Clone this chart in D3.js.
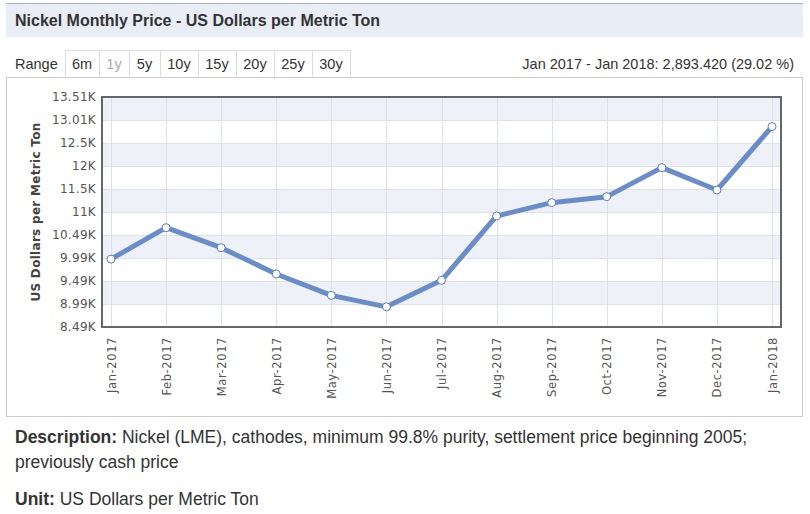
<!DOCTYPE html>
<html>
<head>
<meta charset="utf-8">
<script src="https://cdn.jsdelivr.net/npm/d3@7"></script>
<style>
  html, body { margin: 0; padding: 0; background: #fff; }
  svg { display: block; }
</style>
</head>
<body>
<svg id="chart" width="810" height="514"></svg>
<script>
// ---- data ----
const months = ["Jan-2017","Feb-2017","Mar-2017","Apr-2017","May-2017","Jun-2017",
                "Jul-2017","Aug-2017","Sep-2017","Oct-2017","Nov-2017","Dec-2017","Jan-2018"];
const prices = [9971, 10658, 10221, 9647, 9181, 8930, 9509, 10913, 11204, 11335, 11968, 11480, 12864];
const yTickValues = [8490, 8992, 9494, 9996, 10498, 11000, 11502, 12004, 12506, 13008, 13510];
const yTickLabels = ["8.49K","8.99K","9.49K","9.99K","10.49K","11K","11.5K","12K","12.5K","13.01K","13.51K"];
const rangeButtons = ["6m","1y","5y","10y","15y","20y","25y","30y"];
const titleText = "Nickel Monthly Price - US Dollars per Metric Ton";
const changeText = "Jan 2017 - Jan 2018: 2,893.420 (29.02 %)";
const yAxisTitle = "US Dollars per Metric Ton";

(function () {
const svg = d3.select("#chart");
const sans = "'Liberation Sans', Arial, sans-serif";
const dv = "'DejaVu Sans', Verdana, sans-serif";

// ---- title bar ----
svg.append("rect").attr("x", 6).attr("y", 3).attr("width", 797).attr("height", 34).attr("fill", "#e9edf5");
svg.append("line").attr("x1", 6).attr("x2", 803).attr("y1", 3.5).attr("y2", 3.5).attr("stroke", "#aab3c2").attr("stroke-width", 1);
svg.append("text").attr("x", 15).attr("y", 26).attr("font-family", sans).attr("font-weight", "bold")
  .attr("font-size", 16).attr("fill", "#333").text(titleText);

// ---- range row ----
svg.append("text").attr("x", 15).attr("y", 69).attr("font-family", sans).attr("font-size", 14.5)
  .attr("fill", "#333").text("Range");
const btnEdges = [65, 99, 129, 160, 198, 236, 274, 312, 350];
rangeButtons.forEach((b, i) => {
  const x0 = btnEdges[i], x1 = btnEdges[i + 1];
  svg.append("rect").attr("x", x0 + 0.5).attr("y", 50.5).attr("width", x1 - x0).attr("height", 27)
    .attr("fill", "#fff").attr("stroke", "#ddd");
  svg.append("text").attr("x", (x0 + x1) / 2).attr("y", 69).attr("text-anchor", "middle")
    .attr("font-family", sans).attr("font-size", 14.5).attr("fill", b === "1y" ? "#aaa" : "#333").text(b);
});
svg.append("text").attr("x", 794).attr("y", 69).attr("text-anchor", "end").attr("font-family", sans)
  .attr("font-size", 14.5).attr("fill", "#333").text(changeText);

// ---- chart box ----
svg.append("rect").attr("x", 6.5).attr("y", 77.5).attr("width", 796).attr("height", 339)
  .attr("fill", "#fff").attr("stroke", "#ccc");

// ---- plot ----
const pLeft = 102, pRight = 781, pTop = 97, pBottom = 327;
const x = d3.scalePoint().domain(months).range([pLeft, pRight]).padding(0.163);
const y = d3.scaleLinear().domain([yTickValues[0], yTickValues[yTickValues.length - 1]]).range([pBottom, pTop]);

// alternating bands
for (let i = 0; i < yTickValues.length - 1; i++) {
  const y0 = y(yTickValues[i + 1]), y1 = y(yTickValues[i]);
  const shaded = (yTickValues.length - 2 - i) % 2 === 0;
  svg.append("rect").attr("x", pLeft).attr("y", y0).attr("width", pRight - pLeft).attr("height", y1 - y0)
    .attr("fill", shaded ? "#eff1f8" : "#ffffff");
}
// horizontal grid
svg.append("g").selectAll("line").data(yTickValues).join("line")
  .attr("x1", pLeft).attr("x2", pRight)
  .attr("y1", d => Math.round(y(d)) + 0.5).attr("y2", d => Math.round(y(d)) + 0.5)
  .attr("stroke", "#dde1ea");
// vertical grid
svg.append("g").selectAll("line").data(months).join("line")
  .attr("y1", pTop).attr("y2", pBottom)
  .attr("x1", d => Math.round(x(d)) + 0.5).attr("x2", d => Math.round(x(d)) + 0.5)
  .attr("stroke", "#dde1ea");

// plot border
svg.append("rect").attr("x", pLeft).attr("y", pTop).attr("width", pRight - pLeft).attr("height", pBottom - pTop)
  .attr("fill", "none").attr("stroke", "#666").attr("stroke-width", 2);

// y axis
const yAxis = d3.axisLeft(y).tickValues(yTickValues).tickSize(0).tickPadding(6)
  .tickFormat((d, i) => yTickLabels[i]);
const gy = svg.append("g").attr("transform", `translate(${pLeft},0)`).call(yAxis);
gy.select(".domain").remove();
gy.selectAll("text").attr("font-family", dv).attr("font-size", 12).attr("fill", "#555")
  .attr("letter-spacing", "0.3px");

// x axis
const xAxis = d3.axisBottom(x).tickSize(0).tickPadding(0);
const gx = svg.append("g").attr("transform", `translate(0,${pBottom})`).call(xAxis);
gx.select(".domain").remove();
gx.selectAll("text").attr("font-family", dv).attr("font-size", 11.5).attr("fill", "#555")
  .attr("letter-spacing", "0.6px")
  .attr("text-anchor", "end").attr("dy", "0.35em")
  .attr("transform", "translate(0,10) rotate(-90)").attr("x", 0).attr("y", 0);

// y axis title
svg.append("text").attr("transform", `translate(40,${(pTop + pBottom) / 2}) rotate(-90)`)
  .attr("text-anchor", "middle").attr("font-family", dv).attr("font-weight", "bold")
  .attr("font-size", 12).attr("fill", "#444").attr("letter-spacing", "0.3px").text(yAxisTitle);

// line
const line = d3.line().x((d, i) => x(months[i])).y(d => y(d));
svg.append("path").datum(prices).attr("d", line).attr("fill", "none")
  .attr("stroke", "#6a8dca").attr("stroke-width", 5).attr("stroke-linejoin", "round");
svg.append("g").selectAll("circle").data(prices).join("circle")
  .attr("cx", (d, i) => x(months[i])).attr("cy", d => y(d)).attr("r", 4)
  .attr("fill", "#fff").attr("stroke", "#5a7dbd").attr("stroke-width", 1);

// ---- description ----
const desc = svg.append("text").attr("x", 15).attr("y", 443).attr("font-family", sans)
  .attr("font-size", 17.5).attr("fill", "#333");
desc.append("tspan").attr("font-weight", "bold").text("Description:");
desc.append("tspan").text(" Nickel (LME), cathodes, minimum 99.8% purity, settlement price beginning 2005;");
svg.append("text").attr("x", 15).attr("y", 468).attr("font-family", sans).attr("font-size", 17.5)
  .attr("fill", "#333").text("previously cash price");
const unit = svg.append("text").attr("x", 15).attr("y", 505).attr("font-family", sans)
  .attr("font-size", 17.5).attr("fill", "#333");
unit.append("tspan").attr("font-weight", "bold").text("Unit:");
unit.append("tspan").text(" US Dollars per Metric Ton");
})();
</script>
</body>
</html>
